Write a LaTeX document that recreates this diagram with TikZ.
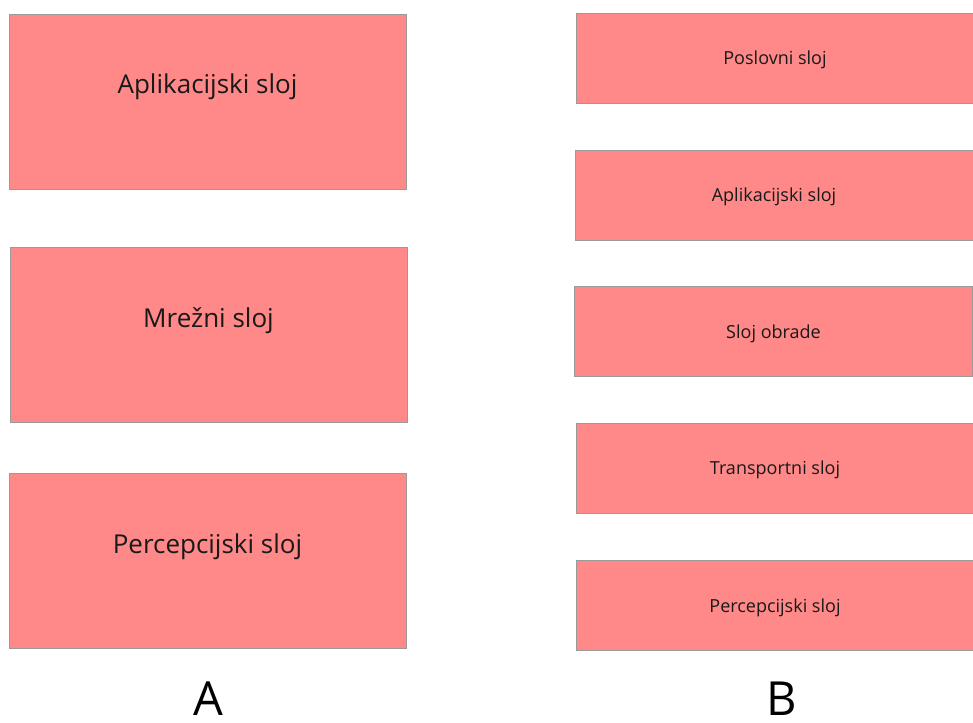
\documentclass[tikz,border=0pt]{standalone}
\usepackage{fontspec}
\setmainfont{Open Sans}
\definecolor{boxfill}{HTML}{FF8888}
\definecolor{boxline}{HTML}{9A9A9A}
\begin{document}
\begin{tikzpicture}[x=1pt,y=-1pt,
  layerbig/.style={draw=boxline,line width=0.8pt,fill=boxfill,inner sep=0pt,
    minimum width=397pt,minimum height=175pt,font=\fontsize{26}{30}\selectfont,
    text height=19pt,text depth=34pt,text=black!90},
  layersmall/.style={draw=boxline,line width=0.8pt,fill=boxfill,inner sep=0pt,
    minimum width=398pt,minimum height=90pt,font=\fontsize{18}{21}\selectfont,
    text height=13pt,text depth=0pt,text=black!90},
  biglabel/.style={font=\fontsize{47}{50}\selectfont,inner sep=0pt,anchor=base,
    text depth=0pt}]
\useasboundingbox (0,0) rectangle (973,722);
\node[layerbig] (a1) at (207.5,101.5) {Aplikacijski sloj};
\node[layerbig] (a2) at (208.5,334.5) {Mrežni sloj};
\node[layerbig] (a3) at (207.5,560.5) {Percepcijski sloj};
\node[layersmall] (b1) at (775,58.5) {Poslovni sloj};
\node[layersmall] (b2) at (774,195) {Aplikacijski sloj};
\node[layersmall] (b3) at (773.5,331.5) {Sloj obrade};
\node[layersmall] (b4) at (775,468) {Transportni sloj};
\node[layersmall] (b5) at (775,605.5) {Percepcijski sloj};
\node[biglabel] (la) at (208,715) {A};
\node[biglabel] (lb) at (782,715) {B};
\end{tikzpicture}
\end{document}
